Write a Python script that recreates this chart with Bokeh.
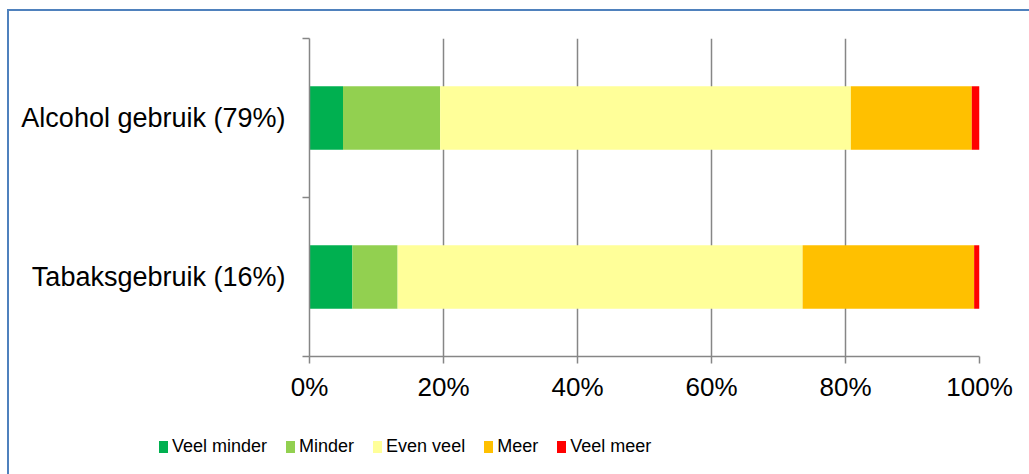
from bokeh.plotting import figure
from bokeh.models import ColumnDataSource, FixedTicker, PrintfTickFormatter, Range1d, Div
from bokeh.layouts import column
from bokeh.embed import file_html
from bokeh.resources import INLINE

# ---- data ----
categories = ["Tabaksgebruik (16%)", "Alcohol gebruik (79%)"]  # bottom to top
series = ["Veel minder", "Minder", "Even veel", "Meer", "Veel meer"]
veel_minder = [6.4, 5.0]
minder = [6.75, 14.5]
even_veel = [60.45, 61.3]
meer = [25.6, 18.05]
veel_meer = [0.8, 1.15]
x_ticks = [0, 20, 40, 60, 80, 100]

colors = ["#00B050", "#92D050", "#FFFF99", "#FFC000", "#FF0000"]
FONT = "Liberation Sans"
GRID = "#868686"

ypos = [i + 0.5 for i in range(len(categories))]
source = ColumnDataSource(dict(
    y=ypos,
    **{"Veel minder": veel_minder, "Minder": minder, "Even veel": even_veel,
       "Meer": meer, "Veel meer": veel_meer}))

p = figure(width=1020, height=400, frame_width=670, frame_height=318,
           output_backend="svg", toolbar_location=None,
           x_range=Range1d(0, 100), y_range=Range1d(0, len(categories)),
           min_border_left=300, min_border_right=50, min_border_top=27,
           min_border_bottom=55)
p.outline_line_color = None
p.background_fill_color = "white"
p.border_fill_color = "white"

p.hbar_stack(series, y="y", height=0.4, color=colors, source=source, line_color=None)

# x axis
xa = p.xaxis[0]
xa.ticker = FixedTicker(ticks=x_ticks, minor_ticks=[])
xa.formatter = PrintfTickFormatter(format="%d%%")
xa.axis_line_color = GRID
xa.axis_line_width = 1.5
xa.major_tick_line_color = GRID
xa.major_tick_line_width = 1.5
xa.major_tick_out = 7
xa.major_tick_in = 0
xa.major_label_standoff = 8
xa.major_label_text_font = FONT
xa.major_label_text_font_size = "26px"
xa.major_label_text_color = "black"

# y axis
ya = p.yaxis[0]
ya.ticker = FixedTicker(ticks=ypos, minor_ticks=list(range(len(categories) + 1)))
ya.major_label_overrides = {y: c for y, c in zip(ypos, categories)}
ya.axis_line_color = GRID
ya.axis_line_width = 1.5
ya.major_tick_out = 0
ya.major_tick_in = 0
ya.minor_tick_out = 7
ya.minor_tick_in = 0
ya.minor_tick_line_color = GRID
ya.minor_tick_line_width = 1.5
ya.major_label_standoff = 17
ya.major_label_text_font = FONT
ya.major_label_text_font_size = "27px"
ya.major_label_text_color = "black"

p.xgrid.ticker = FixedTicker(ticks=x_ticks[1:])
p.xgrid.grid_line_color = GRID
p.xgrid.grid_line_width = 1.5
p.ygrid.grid_line_color = None

# ---- legend strip below the chart ----
parts = []
for name, col in zip(series, colors):
    parts.append(
        '<span style="margin-right:19px;">'
        f'<span style="display:inline-block;width:9px;height:12px;background:{col};'
        'margin-right:4px;vertical-align:-1px;"></span>'
        f'{name}</span>')
legend_html = (
    '<div style="padding-left:145px;padding-top:20px;font-family:\'Liberation Sans\';'
    'font-size:18px;line-height:21px;color:black;white-space:nowrap;">'
    + "".join(parts) + '</div>')
legend_div = Div(text=legend_html, width=1020, height=60)

layout = column(p, legend_div)
layout.styles = {"margin-left": "7px", "margin-top": "9px",
                 "border-left": "2px solid #4F81BD", "border-top": "2px solid #4F81BD"}

open("out.html", "w").write(file_html(layout, INLINE))
